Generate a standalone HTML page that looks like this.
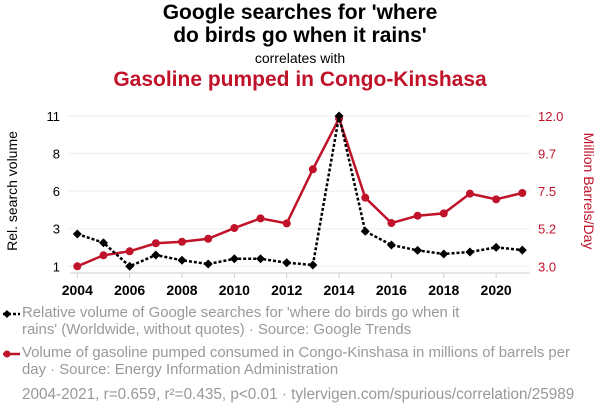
<!DOCTYPE html>
<html><head><meta charset="utf-8"><style>
body{margin:0;background:#fff;width:600px;height:414px;overflow:hidden;font-family:"Liberation Sans",sans-serif}
.t{position:absolute;left:0;width:600px;text-align:center}
.leg{position:absolute;left:22px;font-size:14.9px;color:#999;line-height:17px;width:580px;white-space:nowrap}
</style></head><body>
<div class="t" style="top:1px;font-size:21px;font-weight:bold;line-height:23px;color:#000">Google searches for 'where<br>do birds go when it rains'</div>
<div class="t" style="top:50px;font-size:14px;color:#000">correlates with</div>
<div class="t" style="top:68px;font-size:21px;font-weight:bold;color:#c0132a">Gasoline pumped in Congo-Kinshasa</div>
<svg width="600" height="414" style="position:absolute;left:0;top:0" id="chart"></svg>
<div class="leg" style="top:305px">Relative volume of Google searches for 'where do birds go when it<br>rains' (Worldwide, without quotes) · Source: Google Trends</div>
<div class="leg" style="top:345px">Volume of gasoline pumped consumed in Congo-Kinshasa in millions of barrels per<br>day · Source: Energy Information Administration</div>
<div class="leg" style="top:386px;left:22px;font-size:15.3px">2004-2021, r=0.659, r²=0.435, p&lt;0.01 · tylervigen.com/spurious/correlation/25989</div>
<script>
const years=[2004,2005,2006,2007,2008,2009,2010,2011,2012,2013,2014,2015,2016,2017,2018,2019,2020,2021];
const searches=[3.15,2.57,1,1.75,1.4,1.15,1.5,1.5,1.24,1.09,11,3.33,2.42,2.06,1.82,1.95,2.26,2.08];
const gasoline=[3.0,3.66,3.9,4.38,4.47,4.65,5.29,5.87,5.57,8.81,11.85,7.11,5.59,6.03,6.17,7.35,7.01,7.39];
const leftTicks=[1,3.5,6,8.5,11];
const leftLabels=["1","3","6","8","11"];
const rightTicks=[3,5.25,7.5,9.75,12];
const rightLabels=["3.0","5.2","7.5","9.7","12.0"];
const xTicks=[2004,2006,2008,2010,2012,2014,2016,2018,2020];
const svg=document.getElementById('chart');const NS='http://www.w3.org/2000/svg';
const X=y=>77.3+(y-2004)*(522.3-77.3)/17;
const YL=v=>266.3-(v-1)*(150.3/10);
const YR=v=>266.3-(v-3)*(150.3/9);
function mk(t,a,p){const e=document.createElementNS(NS,t);for(const k in a)e.setAttribute(k,a[k]);(p||svg).appendChild(e);return e;}
leftTicks.forEach((v,i)=>{
const g=mk('line',{x1:68,x2:530,y1:YL(v),y2:YL(v),stroke:'#eee','stroke-width':1});


const t=mk('text',{x:60,y:YL(v)+5,'text-anchor':'end','font-size':13,fill:'#000'});t.textContent=leftLabels[i];


const r=mk('text',{x:538,y:YR(rightTicks[i])+5,'font-size':13,fill:'#c0132a'});r.textContent=rightLabels[i];


});
mk('line',{x1:70,x2:530,y1:273,y2:273,stroke:'#ccc'});
xTicks.forEach(y=>{mk('line',{x1:X(y),x2:X(y),y1:273,y2:278,stroke:'#ccc'});
const t=mk('text',{x:X(y),y:295,'text-anchor':'middle','font-size':14,'font-weight':'bold',fill:'#000'});t.textContent=y;

});
const ylab=mk('text',{transform:'translate(17,191) rotate(-90)','text-anchor':'middle','font-size':14,fill:'#000'});ylab.textContent='Rel. search volume';


const ylab2=mk('text',{transform:'translate(584,191) rotate(90)','text-anchor':'middle','font-size':14,fill:'#c0132a'});ylab2.textContent='Million Barrels/Day';


const rl=mk('polyline',{points:years.map((y,i)=>X(y)+','+YR(gasoline[i])).join(' '),fill:'none',stroke:'#c0132a','stroke-width':2.5});


years.forEach((y,i)=>{const c=mk('circle',{cx:X(y),cy:YR(gasoline[i]),r:4,fill:'#c0132a'});

});
const bl=mk('polyline',{points:years.map((y,i)=>X(y)+','+YL(searches[i])).join(' '),fill:'none',stroke:'#000','stroke-width':2.5,'stroke-dasharray':'3,2'});


years.forEach((y,i)=>{const cx=X(y),cy=YL(searches[i]);const d=mk('polygon',{points:`${cx},${cy-4.5} ${cx+4.5},${cy} ${cx},${cy+4.5} ${cx-4.5},${cy}`,fill:'#000'});

});
const l1=mk('line',{x1:3,x2:20,y1:314,y2:314,stroke:'#000','stroke-width':2.5,'stroke-dasharray':'3,2'});


mk('polygon',{points:'7,310 11,314 7,318 3,314',fill:'#000'});
const l2=mk('line',{x1:3,x2:20,y1:354,y2:354,stroke:'#c0132a','stroke-width':2.5});


mk('circle',{cx:7,cy:354,r:3.5,fill:'#c0132a'});
</script>
</body></html>
